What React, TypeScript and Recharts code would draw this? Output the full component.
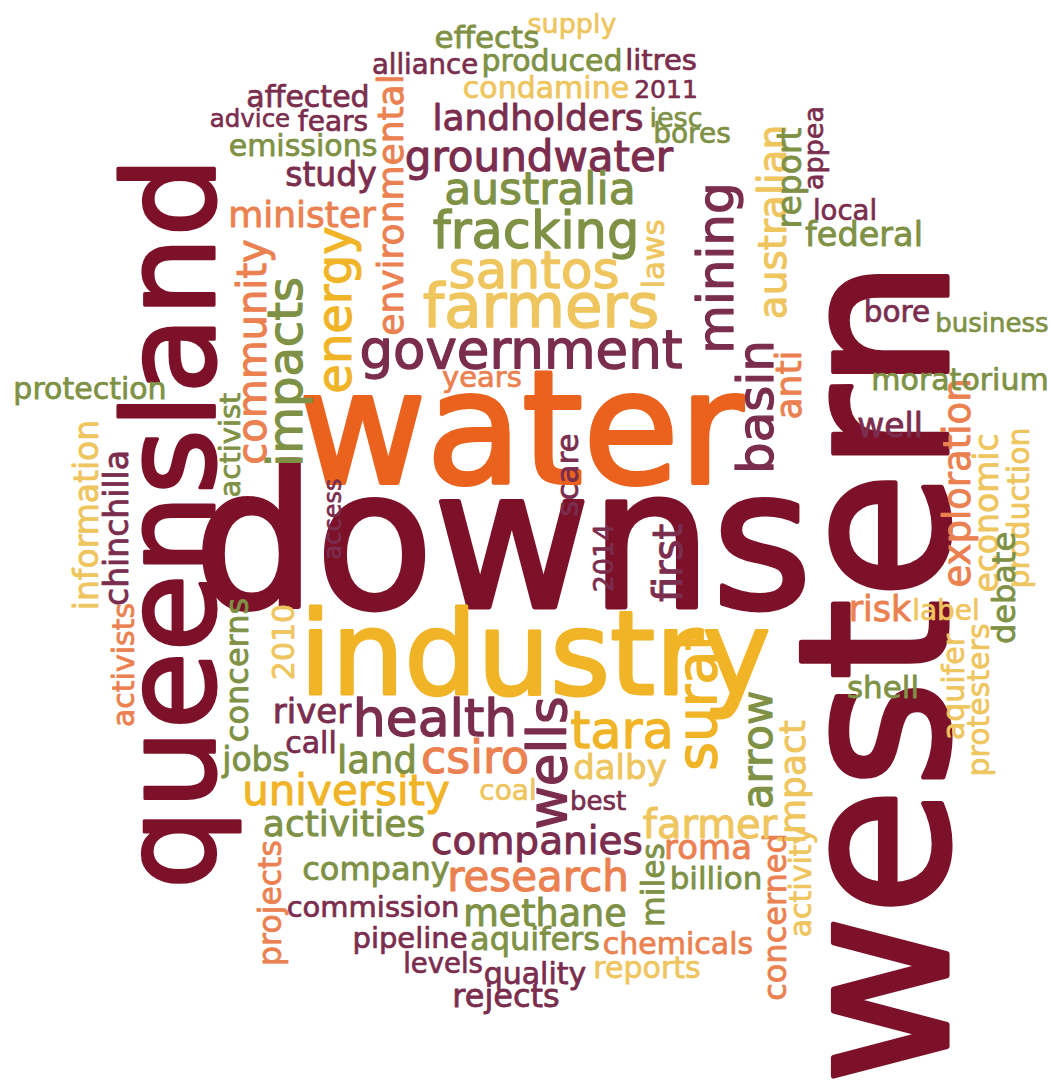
import { Scatter, ScatterChart, XAxis, YAxis, ZAxis } from "recharts";

// [word, frequency, x, y, vertical]
type Term = [string, number, number, number, number];

const maroonTerms: Term[] = [
  ["downs", 96, 503, 540, 0],
  ["western", 103.5, 875, 672, 1],
  ["queensland", 63, 170, 523, 1],
];

const orangeTerms: Term[] = [["water", 78, 521, 429, 0]];

const goldTerms: Term[] = [
  ["industry", 57.5, 535, 654, 0],
  ["energy", 24, 334, 310, 1],
  ["tara", 25.5, 622, 730, 0],
  ["university", 21, 346, 790, 0],
  ["surat", 27.5, 697, 700, 1],
];

const plumTerms: Term[] = [
  ["government", 26.5, 521, 349, 0],
  ["groundwater", 21, 539, 156, 0],
  ["landholders", 18, 538, 117, 0],
  ["health", 26, 435, 718, 0],
  ["companies", 19.5, 537, 840, 0],
  ["wells", 26.5, 547, 763, 1],
  ["basin", 25, 756, 407, 1],
  ["mining", 25, 716, 268, 1],
  ["alliance", 13.75, 425, 64, 0],
  ["litres", 14.5, 661, 60, 0],
  ["2011", 12.5, 666, 89, 0],
  ["affected", 15, 308, 96, 0],
  ["advice", 12.25, 250, 118, 0],
  ["fears", 14, 333, 121, 0],
  ["study", 16.5, 331, 174, 0],
  ["local", 13.75, 845, 210, 0],
  ["appea", 13.5, 813, 148, 1],
  ["bore", 14.75, 897, 312, 0],
  ["well", 16.5, 890, 425, 0],
  ["chinchilla", 16.5, 116, 528, 1],
  ["access", 12, 333, 519, 1],
  ["scare", 15.5, 567, 475, 1],
  ["2014", 13.5, 603, 558, 1],
  ["first", 20, 668, 563, 1],
  ["river", 17, 312, 711, 0],
  ["call", 15, 311, 742, 0],
  ["best", 13, 598, 801, 0],
  ["commission", 14.5, 373, 907, 0],
  ["pipeline", 14.5, 410, 938, 0],
  ["levels", 13.75, 443, 963, 0],
  ["quality", 15, 535, 973, 0],
  ["rejects", 16, 506, 996, 0],
];

const salmonTerms: Term[] = [
  ["environmental", 18, 390, 205, 1],
  ["minister", 18, 302, 214, 0],
  ["community", 20, 252, 352, 1],
  ["years", 14.5, 482, 377, 0],
  ["anti", 18, 788, 385, 1],
  ["exploration", 18.5, 957, 483, 1],
  ["risk", 17.5, 880, 609, 0],
  ["activists", 15, 123, 665, 1],
  ["csiro", 23, 475, 757, 0],
  ["roma", 17, 708, 847, 0],
  ["research", 21, 538, 876, 0],
  ["concerned", 16, 775, 917, 1],
  ["projects", 15.75, 270, 903, 1],
  ["chemicals", 15, 678, 943, 0],
];

const lightGoldTerms: Term[] = [
  ["farmers", 30.5, 541, 305, 0],
  ["santos", 26, 534, 270, 0],
  ["supply", 13.5, 572, 23, 0],
  ["condamine", 15, 546, 87, 0],
  ["australian", 19.5, 772, 222, 1],
  ["laws", 15.5, 653, 254, 1],
  ["information", 16.5, 86, 515, 1],
  ["economic", 16.5, 986, 513, 1],
  ["production", 15, 1018, 508, 1],
  ["label", 14, 946, 610, 0],
  ["aquifer", 15, 953, 687, 1],
  ["protesters", 15, 978, 700, 1],
  ["impact", 18, 792, 782, 1],
  ["2010", 15, 283, 642, 1],
  ["dalby", 17, 620, 767, 0],
  ["coal", 14, 508, 790, 0],
  ["farmer", 20, 710, 824, 0],
  ["activity", 15, 800, 882, 1],
  ["reports", 15, 647, 967, 0],
];

const oliveTerms: Term[] = [
  ["fracking", 25.5, 536, 230, 0],
  ["australia", 22, 540, 188, 0],
  ["impacts", 24, 285, 372, 1],
  ["effects", 15.5, 487, 37, 0],
  ["produced", 15, 552, 60, 0],
  ["iesc", 13.5, 676, 117, 0],
  ["bores", 14, 692, 133, 0],
  ["emissions", 15, 303, 145, 0],
  ["report", 16.5, 789, 178, 1],
  ["federal", 16.75, 864, 234, 0],
  ["business", 13, 992, 323, 0],
  ["moratorium", 15, 960, 379, 0],
  ["protection", 15, 90, 388, 0],
  ["activist", 14.5, 230, 445, 1],
  ["debate", 16, 1004, 588, 1],
  ["shell", 15.5, 883, 687, 0],
  ["arrow", 21, 757, 750, 1],
  ["concerns", 16, 237, 670, 1],
  ["jobs", 16.5, 256, 759, 0],
  ["land", 18.5, 377, 760, 0],
  ["activities", 18, 344, 823, 0],
  ["company", 16, 376, 869, 0],
  ["billion", 15.5, 716, 878, 0],
  ["miles", 15.75, 653, 885, 1],
  ["methane", 18.25, 545, 913, 0],
  ["aquifers", 16, 535, 939, 0],
];

const toRows = (terms: Term[]) =>
  terms.map(([word, freq, x, y, vertical]) => ({ word, freq, x, y, vertical }));

const series = [
  { name: "maroon", color: "#7c1129", terms: maroonTerms },
  { name: "orange", color: "#ea621d", terms: orangeTerms },
  { name: "gold", color: "#f1b427", terms: goldTerms },
  { name: "plum", color: "#7b2d4e", terms: plumTerms },
  { name: "salmon", color: "#eb8150", terms: salmonTerms },
  { name: "lightGold", color: "#efc55e", terms: lightGoldTerms },
  { name: "olive", color: "#7e9145", terms: oliveTerms },
];

function WordMark(props: any) {
  const { cx, cy, size, fill, payload } = props;
  if (cx == null || cy == null) return null;
  const fontSize = size ?? payload.freq * 2;
  return (
    <text
      x={cx}
      y={cy}
      transform={payload.vertical ? `rotate(-90 ${cx} ${cy})` : undefined}
      textAnchor="middle"
      dominantBaseline="central"
      fontFamily="'DejaVu Sans', sans-serif"
      fontSize={fontSize}
      fill={fill}
      stroke={fill}
      strokeWidth={fontSize * 0.025}
      strokeLinejoin="round"
    >
      {payload.word}
    </text>
  );
}

export default function App() {
  return (
    <div
      style={{
        position: "absolute",
        left: 0,
        top: 0,
        width: 1054,
        height: 1092,
        background: "#ffffff",
      }}
    >
      <ScatterChart
        width={1054}
        height={1092}
        margin={{ top: 0, right: 0, bottom: 0, left: 0 }}
      >
        <XAxis type="number" dataKey="x" domain={[0, 1054]} hide />
        <YAxis type="number" dataKey="y" domain={[0, 1092]} reversed hide />
        <ZAxis type="number" dataKey="freq" domain={[0, 110]} range={[0, 220]} />
        {series.map((s) => (
          <Scatter
            key={s.name}
            name={s.name}
            data={toRows(s.terms)}
            fill={s.color}
            shape={(p: any) => <WordMark {...p} />}
            isAnimationActive={false}
          />
        ))}
      </ScatterChart>
    </div>
  );
}
